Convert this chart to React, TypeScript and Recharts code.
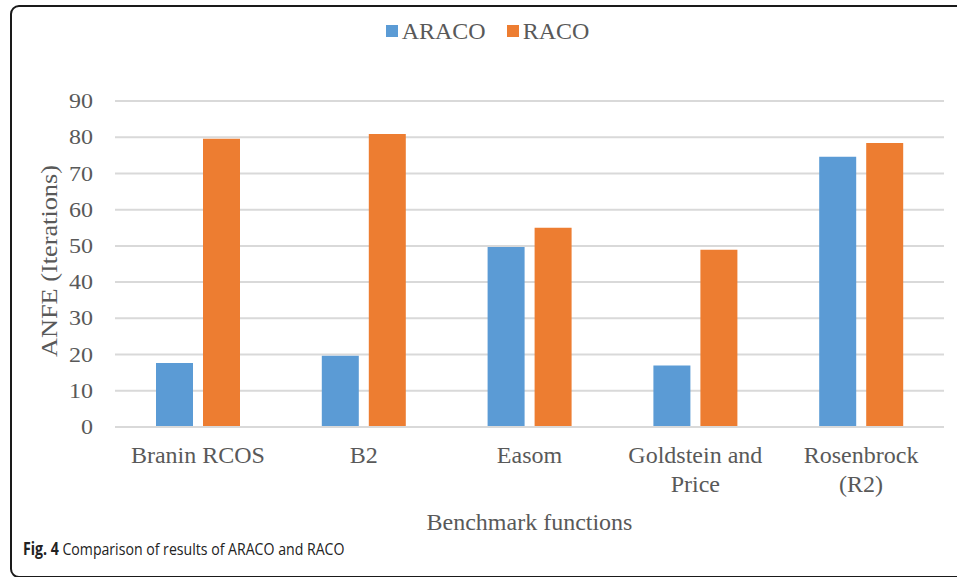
import React from 'react';
import { BarChart, Bar, XAxis, YAxis, CartesianGrid, Label } from 'recharts';

const categories = ['Branin RCOS', 'B2', 'Easom', 'Goldstein and Price', 'Rosenbrock (R2)'];
const categoryLines: string[][] = [['Branin RCOS'], ['B2'], ['Easom'], ['Goldstein and', 'Price'], ['Rosenbrock', '(R2)']];
const aracoValues = [17.7, 19.7, 49.7, 17.0, 74.6];
const racoValues = [79.6, 80.9, 55.0, 48.9, 78.4];
const yTicks = [0, 10, 20, 30, 40, 50, 60, 70, 80, 90];
const seriesNames = ['ARACO', 'RACO'];
const seriesColors = ['#5B9BD5', '#ED7D31'];

const data = categories.map((c, i) => ({ name: c, ARACO: aracoValues[i], RACO: racoValues[i] }));

const SERIF = '"Liberation Serif", "Times New Roman", serif';
const TEXT = '#595959';

const CategoryTick = (props: any) => {
  const { x, y, payload } = props;
  const idx = categories.indexOf(payload.value);
  const lines = categoryLines[idx] || [payload.value];
  return (
    <g>
      {lines.map((ln, i) => (
        <text key={i} x={x} y={y + 36 + i * 29} textAnchor="middle" fill={TEXT} fontSize={24} fontFamily={SERIF}>
          {ln}
        </text>
      ))}
    </g>
  );
};

const ValueTick = (props: any) => {
  const { x, y, payload } = props;
  return (
    <text
      x={x}
      y={y}
      dy="0.355em"
      textAnchor="end"
      fill={TEXT}
      fontSize={20}
      fontFamily={SERIF}
      transform={`translate(${x} ${y}) scale(1.2 1) translate(${-x} ${-y})`}
    >
      {payload.value}
    </text>
  );
};

export default function App() {
  return (
    <div style={{ position: 'absolute', left: 0, top: 0, width: 957, height: 577, background: '#fff', overflow: 'hidden' }}>
      <div
        style={{
          position: 'absolute',
          left: 10,
          top: 5,
          width: 980,
          height: 573,
          boxSizing: 'border-box',
          border: '2px solid #1a1a1a',
          borderRadius: 9,
        }}
      />
      <div
        style={{
          position: 'absolute',
          left: 9,
          top: 17,
          width: 957,
          display: 'flex',
          justifyContent: 'center',
          fontFamily: SERIF,
          fontSize: 24,
          lineHeight: '28px',
          color: TEXT,
        }}
      >
        {seriesNames.map((n, i) => (
          <div key={n} style={{ display: 'flex', alignItems: 'center', marginRight: i === 0 ? 21 : 0 }}>
            <span style={{ display: 'inline-block', width: 12, height: 12, background: seriesColors[i], marginRight: 4 }} />
            <span>{n}</span>
          </div>
        ))}
      </div>
      <div style={{ position: 'absolute', left: 0, top: 0 }}>
        <BarChart
          width={957}
          height={577}
          data={data}
          margin={{ top: 101, right: 13, left: 0, bottom: 0 }}
          barSize={37}
          barGap={10}
        >
          <CartesianGrid vertical={false} stroke="#D9D9D9" strokeWidth={2} />
          <XAxis
            dataKey="name"
            height={150}
            axisLine={{ stroke: '#D9D9D9', strokeWidth: 2 }}
            tickLine={false}
            tickSize={0}
            tickMargin={0}
            interval={0}
            tick={<CategoryTick />}
          >
            <Label
              content={(p: any) => {
                const vb = p.viewBox || {};
                return (
                  <text x={vb.x + vb.width / 2} y={530} textAnchor="middle" fill={TEXT} fontSize={24} fontFamily={SERIF}>
                    Benchmark functions
                  </text>
                );
              }}
            />
          </XAxis>
          <YAxis
            width={115}
            domain={[0, 90]}
            ticks={yTicks}
            interval={0}
            axisLine={false}
            tickLine={false}
            tickSize={0}
            tickMargin={22}
            tick={<ValueTick />}
          >
            <Label
              content={() => {
                const cx = 57;
                const cy = 261;
                return (
                  <text
                    x={cx}
                    y={cy}
                    transform={`rotate(-90 ${cx} ${cy})`}
                    textAnchor="middle"
                    fill={TEXT}
                    fontSize={23}
                    fontFamily={SERIF}
                    textLength={192}
                    lengthAdjust="spacingAndGlyphs"
                  >
                    ANFE (Iterations)
                  </text>
                );
              }}
            />
          </YAxis>
          <Bar dataKey="ARACO" fill={seriesColors[0]} isAnimationActive={false} />
          <Bar dataKey="RACO" fill={seriesColors[1]} isAnimationActive={false} />
        </BarChart>
      </div>
      <div
        style={{
          position: 'absolute',
          left: 23,
          top: 539,
          fontFamily: '"Open Sans", "Noto Sans", sans-serif',
          fontSize: 17,
          lineHeight: '20px',
          color: '#222',
          whiteSpace: 'nowrap',
          transform: 'scaleX(0.83)',
          transformOrigin: 'left center',
        }}
      >
        <b>Fig. 4</b> Comparison of results of ARACO and RACO
      </div>
    </div>
  );
}
